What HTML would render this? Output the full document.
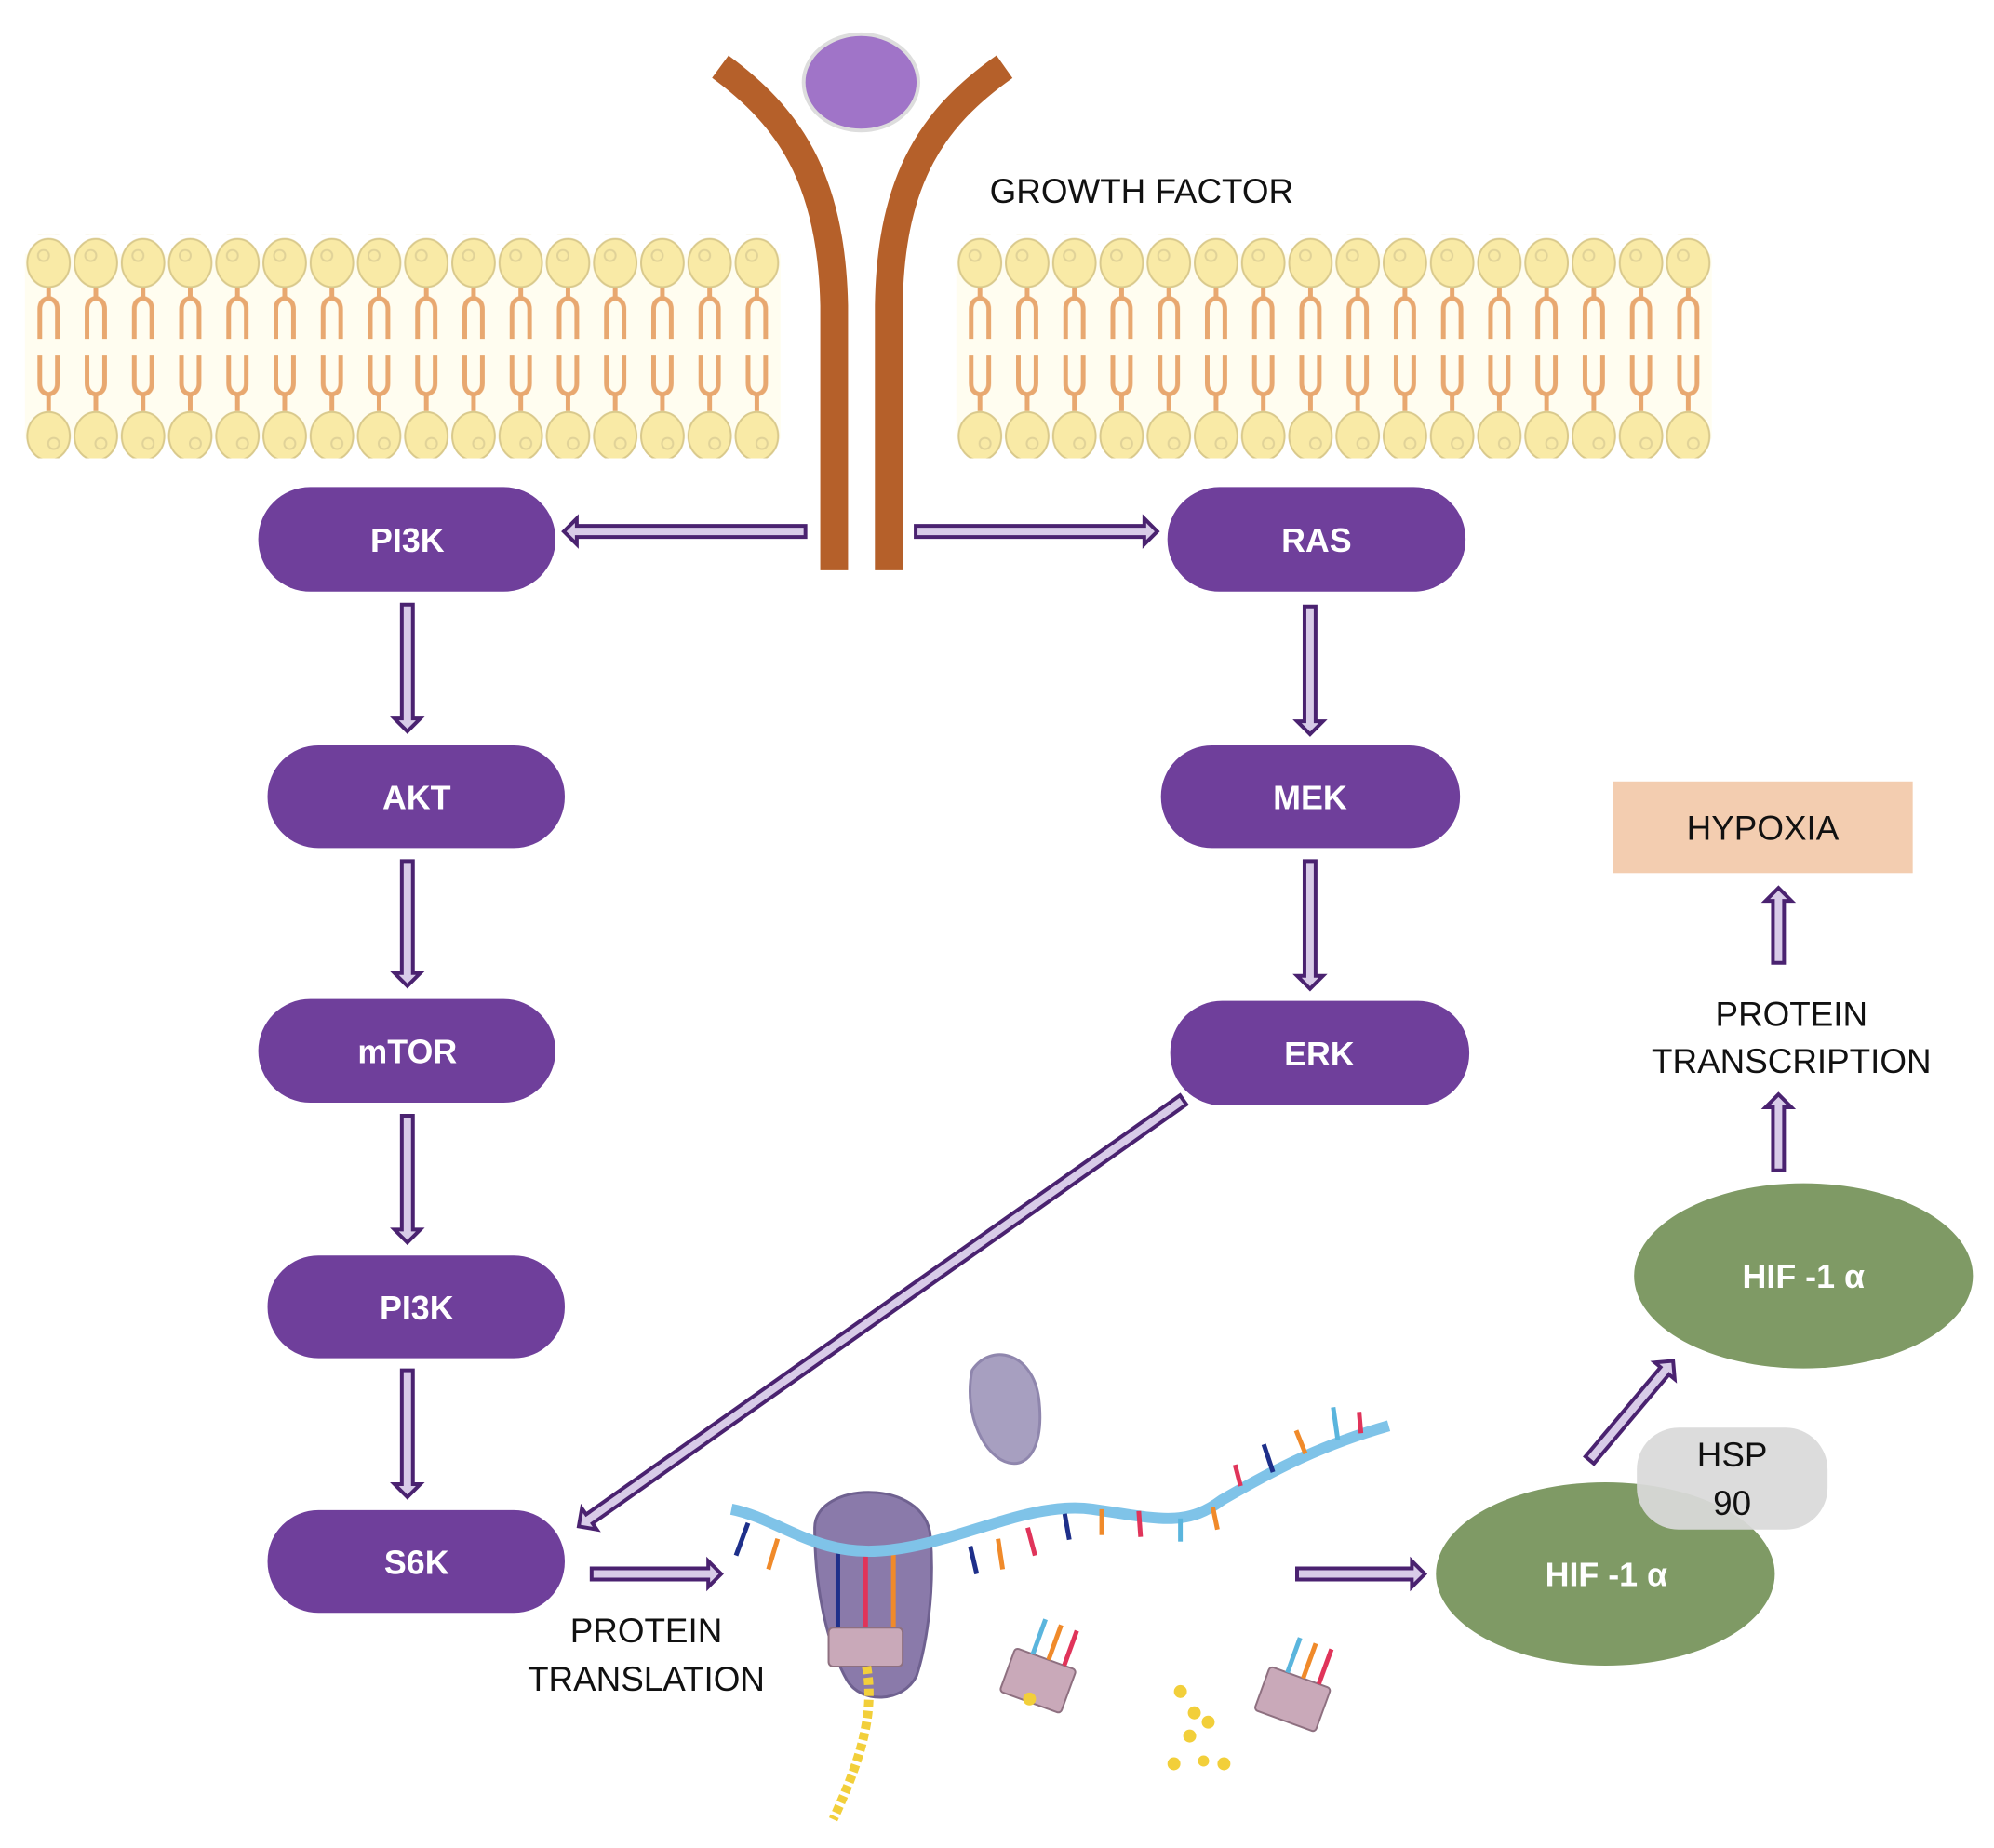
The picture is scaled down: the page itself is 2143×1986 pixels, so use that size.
<!DOCTYPE html>
<html><head><meta charset="utf-8">
<style>
html,body{margin:0;padding:0;background:#fff;}
svg{display:block;}
text{font-family:"Liberation Sans",sans-serif;}
</style></head>
<body>
<svg width="2143" height="1986" viewBox="0 0 2143 1986" xmlns="http://www.w3.org/2000/svg">
<defs>
<pattern id="mem" patternUnits="userSpaceOnUse" width="51" height="241">
  <rect x="0" y="20" width="51" height="200" fill="#fffdf0"/>
  <g stroke="#e8a870" stroke-width="5" fill="none">
    <path d="M25.5,52 V68 M16,112 V80 Q16,70 25.5,68 Q35,70 35,80 V112"/>
    <path d="M16,130 V160 Q16,170 25.5,172 Q35,170 35,160 V130 M25.5,172 V190"/>
  </g>
  <ellipse cx="25.5" cy="30" rx="23" ry="26" fill="#f9eaa6" stroke="#d9c98c" stroke-width="2"/>
  <circle cx="20" cy="22" r="6" fill="none" stroke="#e0d298" stroke-width="2"/>
  <ellipse cx="25.5" cy="217" rx="23" ry="26" fill="#f9eaa6" stroke="#d9c98c" stroke-width="2"/>
  <circle cx="31" cy="225" r="6" fill="none" stroke="#e0d298" stroke-width="2"/>
</pattern>
</defs>
<g transform="scale(0.995)">
<!-- membranes -->
<g transform="translate(27,254)"><rect width="816" height="241" fill="url(#mem)"/></g>
<g transform="translate(1033,254)"><rect width="816" height="241" fill="url(#mem)"/></g>

<!-- receptor -->
<g stroke="#b5602a" stroke-width="30" fill="none">
  <path d="M778,72 C850,125 898,190 901,330 L901,616"/>
  <path d="M1085,72 C1010,125 962,190 960,330 L960,616"/>
</g>
<ellipse cx="930" cy="89" rx="62" ry="52" fill="#a074c8" stroke="#ddd" stroke-width="4"/>
<text x="1069" y="219" font-size="37" fill="#111">GROWTH FACTOR</text>

<!-- arrows -->
<g fill="#d8cbe8" stroke="#4a2270" stroke-width="4" stroke-linejoin="miter">
  <path transform="translate(870,574) rotate(180)" d="M0,-6 H247 V-14 L261,0 L247,14 V6 H0 Z"/>
  <path transform="translate(989,574)" d="M0,-6 H247 V-14 L261,0 L247,14 V6 H0 Z"/>
  <path transform="translate(440,653) rotate(90)" d="M0,-6 H123 V-14 L137,0 L123,14 V6 H0 Z"/>
  <path transform="translate(440,930) rotate(90)" d="M0,-6 H121 V-14 L135,0 L121,14 V6 H0 Z"/>
  <path transform="translate(440,1205) rotate(90)" d="M0,-6 H123 V-14 L137,0 L123,14 V6 H0 Z"/>
  <path transform="translate(440,1480) rotate(90)" d="M0,-6 H123 V-14 L137,0 L123,14 V6 H0 Z"/>
  <path transform="translate(1415,655) rotate(90)" d="M0,-6 H124 V-14 L138,0 L124,14 V6 H0 Z"/>
  <path transform="translate(1415,930) rotate(90)" d="M0,-6 H124 V-14 L138,0 L124,14 V6 H0 Z"/>
  <path transform="translate(1278,1188) rotate(144.8)" d="M0,-6 H785 V-14 L799,0 L785,14 V6 H0 Z"/>
  <path transform="translate(639,1700)" d="M0,-6 H126 V-14 L140,0 L126,14 V6 H0 Z"/>
  <path transform="translate(1401,1700)" d="M0,-6 H124 V-14 L138,0 L124,14 V6 H0 Z"/>
  <path transform="translate(1717,1577) rotate(-49.9)" d="M0,-6 H126 V-14 L140,0 L126,14 V6 H0 Z"/>
  <path transform="translate(1921,1264) rotate(-90)" d="M0,-6 H68 V-14 L82,0 L68,14 V6 H0 Z"/>
  <path transform="translate(1921,1040) rotate(-90)" d="M0,-6 H67 V-14 L81,0 L67,14 V6 H0 Z"/>
</g>

<!-- pills -->
<g fill="#6f3f9b">
  <rect x="279" y="526" width="321" height="113" rx="56"/>
  <rect x="289" y="805" width="321" height="111" rx="55"/>
  <rect x="279" y="1079" width="321" height="112" rx="56"/>
  <rect x="289" y="1356" width="321" height="111" rx="55"/>
  <rect x="289" y="1631" width="321" height="111" rx="55"/>
  <rect x="1261" y="526" width="322" height="113" rx="56"/>
  <rect x="1254" y="805" width="323" height="111" rx="55"/>
  <rect x="1264" y="1081" width="323" height="113" rx="56"/>
</g>
<g fill="#fff" font-size="36" font-weight="bold" text-anchor="middle">
  <text x="440" y="596">PI3K</text>
  <text x="450" y="874">AKT</text>
  <text x="440" y="1148">mTOR</text>
  <text x="450" y="1425">PI3K</text>
  <text x="450" y="1700">S6K</text>
  <text x="1422" y="596">RAS</text>
  <text x="1415" y="874">MEK</text>
  <text x="1425" y="1151">ERK</text>
</g>

<!-- HIF / HSP / hypoxia -->
<ellipse cx="1948" cy="1378" rx="183" ry="100" fill="#7f9a65"/>
<text x="1948" y="1391" font-size="36" font-weight="bold" fill="#fff" text-anchor="middle">HIF -1 α</text>
<ellipse cx="1734" cy="1700" rx="183" ry="99" fill="#7f9a65"/>
<rect x="1768" y="1542" width="206" height="110" rx="45" fill="#d9d9d9" opacity="0.93"/>
<text x="1871" y="1584" font-size="37" fill="#111" text-anchor="middle">HSP</text>
<text x="1871" y="1636" font-size="37" fill="#111" text-anchor="middle">90</text>
<text x="1735" y="1713" font-size="36" font-weight="bold" fill="#fff" text-anchor="middle">HIF -1 α</text>
<rect x="1742" y="844" width="324" height="99" fill="#f3cdb0"/>
<text x="1904" y="907" font-size="37" fill="#111" text-anchor="middle">HYPOXIA</text>
<text x="1935" y="1108" font-size="37" fill="#111" text-anchor="middle">PROTEIN</text>
<text x="1935" y="1159" font-size="37" fill="#111" text-anchor="middle">TRANSCRIPTION</text>
<text x="698" y="1774" font-size="37" fill="#111" text-anchor="middle">PROTEIN</text>
<text x="698" y="1826" font-size="37" fill="#111" text-anchor="middle">TRANSLATION</text>

<!-- ribosome small subunit blob -->
<path d="M1050,1480 C1070,1450 1115,1460 1122,1510 C1128,1560 1112,1585 1090,1580 C1065,1575 1040,1530 1050,1480 Z" fill="#a79fc0" stroke="#8f86ad" stroke-width="3"/>
<!-- ribosome large -->
<path d="M880,1650 C880,1600 1000,1595 1005,1660 C1010,1720 1000,1780 990,1810 C975,1840 930,1840 915,1815 C895,1780 880,1720 880,1650 Z" fill="#8a7aaa" stroke="#6f6190" stroke-width="3"/>
<g stroke-width="5">
  <line x1="905" y1="1670" x2="905" y2="1760" stroke="#1e2f8a"/>
  <line x1="935" y1="1670" x2="935" y2="1760" stroke="#e0345a"/>
  <line x1="965" y1="1670" x2="965" y2="1760" stroke="#f08a2a"/>
</g>
<rect x="895" y="1758" width="80" height="42" rx="5" fill="#c9a9b9" stroke="#8e7080" stroke-width="2"/>
<path d="M936,1800 C945,1850 930,1900 900,1965" stroke="#f2cf3a" stroke-width="10" stroke-dasharray="8 4" fill="none"/>
<path d="M790,1630 C840,1640 880,1680 950,1675 C1030,1670 1110,1620 1180,1630 C1250,1640 1280,1650 1320,1620 C1380,1585 1430,1560 1500,1540" stroke="#7fc3e8" stroke-width="12" fill="none"/>
<g stroke-width="5">
  <line x1="808" y1="1645" x2="795" y2="1680" stroke="#1e2f8a"/>
  <line x1="840" y1="1662" x2="830" y2="1695" stroke="#f08a2a"/>
  <line x1="1048" y1="1670" x2="1055" y2="1700" stroke="#1e2f8a"/>
  <line x1="1078" y1="1662" x2="1083" y2="1695" stroke="#f08a2a"/>
  <line x1="1110" y1="1650" x2="1118" y2="1680" stroke="#e0345a"/>
  <line x1="1150" y1="1635" x2="1155" y2="1663" stroke="#1e2f8a"/>
  <line x1="1190" y1="1630" x2="1190" y2="1658" stroke="#f08a2a"/>
  <line x1="1230" y1="1632" x2="1232" y2="1660" stroke="#e0345a"/>
  <line x1="1275" y1="1640" x2="1275" y2="1665" stroke="#5ab5dd"/>
  <line x1="1310" y1="1628" x2="1315" y2="1652" stroke="#f08a2a"/>
  <line x1="1340" y1="1605" x2="1334" y2="1582" stroke="#e0345a"/>
  <line x1="1375" y1="1590" x2="1365" y2="1560" stroke="#1e2f8a"/>
  <line x1="1410" y1="1570" x2="1400" y2="1545" stroke="#f08a2a"/>
  <line x1="1445" y1="1555" x2="1440" y2="1520" stroke="#5ab5dd"/>
  <line x1="1470" y1="1548" x2="1468" y2="1525" stroke="#e0345a"/>
</g>
<g transform="translate(1125,1790) rotate(20)">
  <rect x="-30" y="0" width="70" height="50" rx="4" fill="#c9a9b9" stroke="#8e7080" stroke-width="2"/>
  <line x1="-10" y1="0" x2="-10" y2="-40" stroke="#5ab5dd" stroke-width="5"/>
  <line x1="8" y1="0" x2="8" y2="-40" stroke="#f08a2a" stroke-width="5"/>
  <line x1="26" y1="0" x2="26" y2="-40" stroke="#e0345a" stroke-width="5"/>
</g>
<g transform="translate(1400,1810) rotate(20)">
  <rect x="-30" y="0" width="70" height="50" rx="4" fill="#c9a9b9" stroke="#8e7080" stroke-width="2"/>
  <line x1="-10" y1="0" x2="-10" y2="-40" stroke="#5ab5dd" stroke-width="5"/>
  <line x1="8" y1="0" x2="8" y2="-40" stroke="#f08a2a" stroke-width="5"/>
  <line x1="26" y1="0" x2="26" y2="-40" stroke="#e0345a" stroke-width="5"/>
</g>
<g fill="#f2cf3a">
  <circle cx="1275" cy="1827" r="7"/><circle cx="1290" cy="1850" r="7"/><circle cx="1305" cy="1860" r="7"/>
  <circle cx="1285" cy="1875" r="7"/><circle cx="1268" cy="1905" r="7"/><circle cx="1300" cy="1902" r="6"/>
  <circle cx="1322" cy="1905" r="7"/><circle cx="1112" cy="1835" r="7"/>
</g>
</g>
</svg>
</body></html>
